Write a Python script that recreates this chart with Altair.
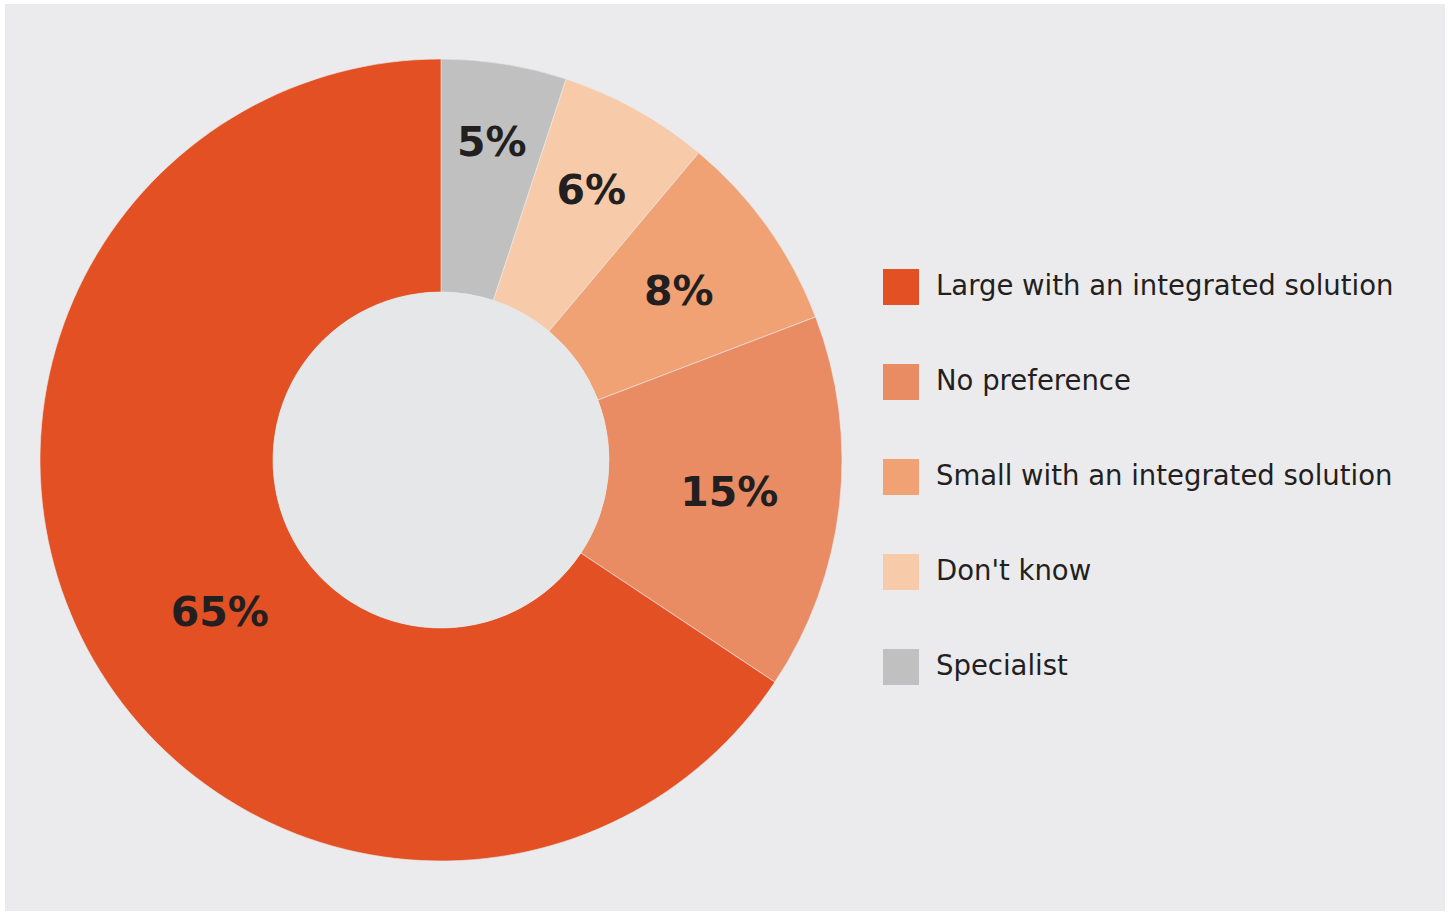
import altair as alt
import pandas as pd

# Survey answers, drawn clockwise from 12 o'clock
categories = ["Specialist", "Don't know", "Small with an integrated solution",
              "No preference", "Large with an integrated solution"]
shares = [5, 6, 8, 15, 65]
label_radius = [322, 309, 292, 290, 268]

legend_order = ["Large with an integrated solution", "No preference",
                "Small with an integrated solution", "Don't know", "Specialist"]
legend_colors = ["#e25024", "#ea8c63", "#f0a274", "#f7cbaa", "#c0c0c0"]

df = pd.DataFrame({
    "category": categories,
    "share": shares,
    "order": list(range(len(categories))),
    "lr": label_radius,
})

cx, cy = 436, 456
outer_r, inner_r = 401, 168

color = alt.Color(
    "category:N",
    scale=alt.Scale(domain=legend_order, range=legend_colors),
    legend=alt.Legend(
        title=None, orient="none", legendX=878, legendY=265,
        symbolType="square", symbolSize=1296, symbolStrokeWidth=0,
        symbolOpacity=1, labelFont="DejaVu Sans", labelFontSize=27.5,
        labelColor="#231f20", labelOffset=17, rowPadding=59,
        labelLimit=600,
    ),
)

donut = alt.Chart(df).mark_arc(
    outerRadius=outer_r, innerRadius=inner_r, stroke="#ebebed", strokeWidth=0.6
).encode(
    theta=alt.Theta("share:Q", stack=True),
    order=alt.Order("order:Q"),
    color=color,
    x=alt.value(cx), y=alt.value(cy),
)

# lighter disc filling the hole of the donut (circle symbol size = diameter^2)
hole = alt.Chart(pd.DataFrame({"h": [0]})).mark_point(
    filled=True, opacity=1, color="#e6e7e9", size=(2 * inner_r) ** 2,
    shape="circle", strokeWidth=0
).encode(x=alt.value(cx), y=alt.value(cy))

# label angle: middle of each slice, in radians from 12 o'clock
label_base = alt.Chart(df).transform_window(
    cum="sum(share)", sort=[alt.SortField("order")], frame=[None, 0]
).transform_joinaggregate(
    total="sum(share)"
).transform_calculate(
    mid="(datum.cum - datum.share / 2) / datum.total * 2 * PI",
    txt="datum.share + '%'",
)

label_style = dict(font="DejaVu Sans", fontSize=41, fontWeight="bold",
                   color="#231f20", align="center", baseline="middle")

labels_small = label_base.transform_filter("datum.share < 50").mark_text(
    dy=2, **label_style
).encode(
    theta=alt.Theta("mid:Q", scale=None),
    radius=alt.Radius("lr:Q", scale=None),
    text="txt:N",
    x=alt.value(cx), y=alt.value(cy),
)

labels_big = label_base.transform_filter("datum.share >= 50").mark_text(
    dx=15, dy=27, **label_style
).encode(
    theta=alt.Theta("mid:Q", scale=None),
    radius=alt.Radius("lr:Q", scale=None),
    text="txt:N",
    x=alt.value(cx), y=alt.value(cy),
)

chart = alt.layer(donut, hole, labels_small, labels_big).properties(
    width=1440, height=907,
    padding={"left": 5, "top": 4, "right": 7, "bottom": 1},
    background="#ffffff",
    autosize=alt.AutoSizeParams(type="none"),
).configure_view(fill="#ebebed", stroke=None)

chart.save("out.html", embed_options={"renderer": "svg", "actions": False})
